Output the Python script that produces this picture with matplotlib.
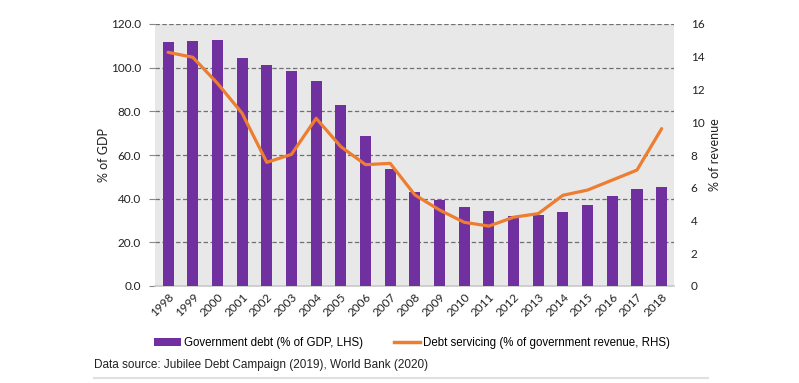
import matplotlib
matplotlib.use("Agg")
import matplotlib.pyplot as plt
from matplotlib.lines import Line2D
from matplotlib.patches import Patch
import numpy as np

years = [str(y) for y in range(1998, 2019)]
gov_debt = [111.8, 112.2, 112.5, 104.4, 101.4, 98.5, 93.8, 82.8, 68.7, 53.4, 43.2,
            39.5, 36.2, 34.4, 32.2, 32.5, 33.7, 37.1, 41.2, 44.4, 45.5]
debt_service = [14.27, 13.97, 12.38, 10.55, 7.55, 8.04, 10.24, 8.51, 7.41, 7.49, 5.56,
                4.64, 3.89, 3.66, 4.2, 4.42, 5.54, 5.86, 6.47, 7.08, 9.61]

left_ticks = [0, 20, 40, 60, 80, 100, 120]
right_ticks = [0, 2, 4, 6, 8, 10, 12, 14, 16]

purple = "#7030A0"
orange = "#ED7D31"
tick_font = "Lato"
note_font = "Liberation Sans"

fig = plt.figure(figsize=(7.99, 3.83), dpi=100)
ax = fig.add_axes([155/799, 1-286/383, (674-155)/799, (286-24)/383])
ax.set_facecolor("#E8E8E8")
x = np.arange(len(years))
ax.bar(x, gov_debt, width=0.45, color=purple, zorder=3)
ax.set_xlim(-0.53, len(years) - 0.5)
ax.set_ylim(0, 120)
ax.set_yticks(left_ticks)
ax.set_yticklabels([f"{v:.1f}" for v in left_ticks], fontsize=8.5, family=tick_font, color="#222222")
ax.set_xticks(x)
ax.set_xticklabels(years, rotation=45, ha="right", rotation_mode="anchor",
                   fontsize=8.5, family=tick_font, color="#222222")
ax.tick_params(axis="x", length=0, pad=4)
ax.tick_params(axis="y", length=4, color="#888888", pad=6)
for yv in left_ticks[1:]:
    ax.axhline(yv, color="#707070", linestyle=(0, (3.5, 2)), linewidth=0.9, zorder=1)
for s in ["top", "right", "left"]:
    ax.spines[s].set_visible(False)
ax.spines["bottom"].set_color("#C8C8C8")
ax.spines["bottom"].set_linewidth(1.2)
ax.set_ylabel("% of GDP", fontsize=9, family=tick_font, color="#222222", labelpad=0)
ax.yaxis.set_label_coords(-0.087, 0.5)

ax2 = ax.twinx()
ax2.plot(x, debt_service, color=orange, linewidth=2.3, zorder=4, solid_capstyle="round")
ax2.set_ylim(0, 16)
ax2.set_yticks(right_ticks)
ax2.set_yticklabels([str(v) for v in right_ticks], fontsize=8.5, family=tick_font, color="#222222")
ax2.tick_params(axis="y", length=0, pad=12)
for s in ["top", "right", "left", "bottom"]:
    ax2.spines[s].set_visible(False)
ax2.set_ylabel("% of revenue", fontsize=9, family=tick_font, color="#222222", labelpad=3)

handles = [Patch(facecolor=purple, edgecolor="none"),
           Line2D([0], [0], color=orange, linewidth=2.5)]
labels = ["Government debt (% of GDP, LHS)", "Debt servicing (% of government revenue, RHS)"]
fig.legend(handles, labels, loc="center", bbox_to_anchor=(412/799, 1-343/383), ncol=2,
           frameon=False, prop={"family": note_font, "size": 8.3},
           handlelength=2.3, handletextpad=0.25, columnspacing=2.7)

fig.text(94/799, 1-365/383, "Data source: Jubilee Debt Campaign (2019), World Bank (2020)",
         fontsize=8.45, family=note_font, color="#222222", va="center", ha="left")
fig.add_artist(Line2D([94/799, 708/799], [1-378/383, 1-378/383], color="#E0E0E0", linewidth=1.5))

fig.savefig("out.png", dpi=100)
